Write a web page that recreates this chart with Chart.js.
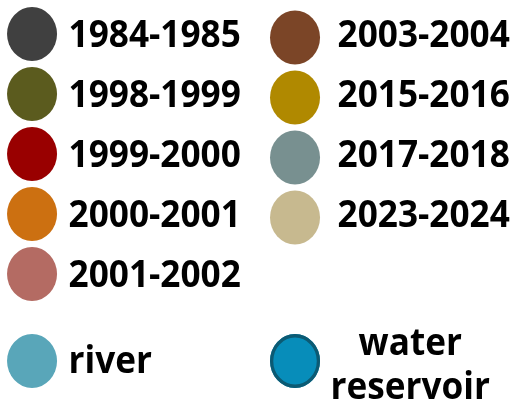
<!DOCTYPE html>
<html>
<head>
<meta charset="utf-8">
<script src="https://cdn.jsdelivr.net/npm/chart.js@4/dist/chart.umd.min.js"></script>
<style>
  html, body { margin: 0; padding: 0; background: #fff; }
  #wrap { width: 515px; height: 406px; }
</style>
</head>
<body>
<div id="wrap"><canvas id="legendChart" width="515" height="406"></canvas></div>
<script>
/* ---------- DATA ---------- */
const periods = ["1984-1985", "1998-1999", "1999-2000", "2000-2001", "2001-2002",
                 "2003-2004", "2015-2016", "2017-2018", "2023-2024"];
const periodColors = ["#404040", "#5b5b1e", "#990000", "#cc7011", "#b46b63",
                      "#7b4527", "#b08900", "#789090", "#c7b98f"];
const waterLabels = ["river", "water reservoir"];
const waterColors = ["#59a6b9", "#078dba"];
const waterBorders = ["#59a6b9", "#0c5a73"];

/* ---------- LAYOUT ---------- */
const SX = 0.926;            // original artwork is squeezed horizontally
const ROWS = 5;
const ROW_H = 60;
const FONT = "bold 38px 'Open Sans', 'Noto Sans', sans-serif";

const datasets = periods.map((p, i) => ({
    label: p, data: [], backgroundColor: periodColors[i], borderColor: periodColors[i]
})).concat(waterLabels.map((w, i) => ({
    label: w, data: [], backgroundColor: waterColors[i], borderColor: waterBorders[i]
})));

const legendGrid = {
    id: "legendGrid",
    afterDraw(chart) {
        const items = Chart.defaults.plugins.legend.labels.generateLabels(chart);
        const ctx = chart.ctx;
        ctx.save();
        ctx.scale(SX, 1);
        ctx.font = FONT;
        ctx.fillStyle = "#000";
        ctx.textBaseline = "alphabetic";

        const dot = (cx, cy, fill, stroke, lw) => {
            ctx.beginPath();
            ctx.arc(cx, cy, 27, 0, Math.PI * 2);
            ctx.fillStyle = fill;
            ctx.fill();
            if (lw) {
                ctx.lineWidth = lw;
                ctx.strokeStyle = stroke;
                ctx.beginPath();
                ctx.arc(cx, cy, 27 - lw / 2, 0, Math.PI * 2);
                ctx.stroke();
            }
        };

        items.forEach((it, i) => {
            if (i < periods.length) {
                const col = i < ROWS ? 0 : 1;
                const row = i % ROWS;
                const cx = col ? 318.6 : 34.6;
                const cy = (col ? 37.5 : 34) + row * ROW_H;
                dot(cx, cy, it.fillStyle);
                ctx.fillStyle = "#000";
                ctx.textAlign = "left";
                ctx.fillText(it.text, col ? 364.5 : 74, 47 + row * ROW_H);
            } else {
                const j = i - periods.length;
                const cx = j ? 318.6 : 34.6;
                const cy = 361;
                dot(cx, cy, it.fillStyle, it.strokeStyle, j ? 3.5 : 0);
                ctx.fillStyle = "#000";
                if (j === 0) {
                    ctx.textAlign = "left";
                    ctx.fillText(it.text, 74, 373);
                } else {
                    ctx.textAlign = "center";
                    const words = it.text.split(" ");
                    ctx.fillText(words[0], 443, 355);
                    ctx.fillText(words[1], 443, 399);
                }
            }
        });
        ctx.restore();
    }
};

new Chart(document.getElementById("legendChart"), {
    type: "bar",
    data: { labels: [], datasets },
    options: {
        responsive: false,
        animation: false,
        devicePixelRatio: 1,
        plugins: { legend: { display: false }, tooltip: { enabled: false } },
        scales: { x: { display: false }, y: { display: false } }
    },
    plugins: [legendGrid]
});
</script>
</body>
</html>
